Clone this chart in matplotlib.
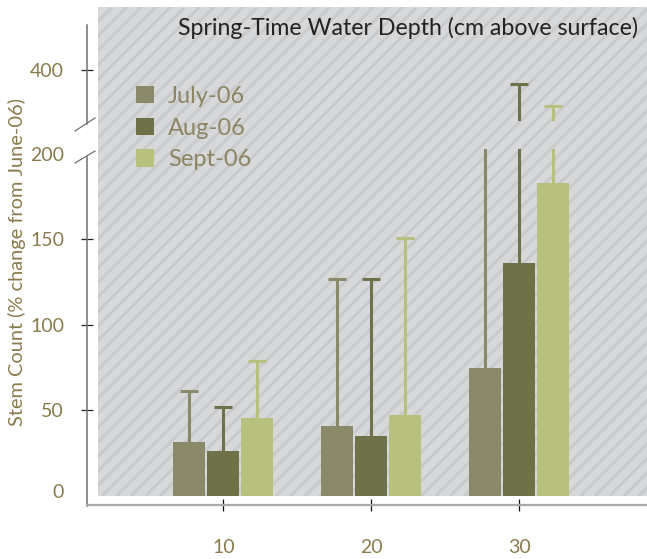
import numpy as np
import matplotlib
matplotlib.use("Agg")
import matplotlib.pyplot as plt
import matplotlib.transforms as mtransforms
from matplotlib.patches import Patch
from matplotlib.lines import Line2D

# data
depths = [10, 20, 30]
months = ["July-06", "Aug-06", "Sept-06"]
july = [31.3, 41.2, 75.1]
aug = [26.6, 34.8, 136.5]
sept = [45.9, 47.5, 183.3]
# upper end of the error bars
july_hi = [61.5, 127.0, 250.0]
aug_hi = [52.2, 127.0, 391.8]
sept_hi = [79.0, 150.6, 378.8]

colors = ["#8a8a6a", "#6f7248", "#b8c080"]
txt = "#8a7b4e"
plt.rcParams["font.family"] = ["Lato", "DejaVu Sans"]

W, H = 647, 559
fig = plt.figure(figsize=(W / 100, H / 100), dpi=100)

def fx(px):
    return px / W

def fy(py):
    return 1 - py / H

# striped background panel (drawn in pixel units)
pw, ph = 647 - 98, 496 - 7
bg = fig.add_axes([fx(98), fy(496), fx(647) - fx(98), fy(7) - fy(496)])
bg.set_facecolor("#d7d8da")
for c in np.arange(0, pw + ph + 15, 14.5):
    bg.plot([c - ph, c], [0, ph], color="#c9cacc", lw=2.2, solid_capstyle="butt")
bg.set_xlim(0, pw)
bg.set_ylim(0, ph)
bg.set_xticks([])
bg.set_yticks([])
for s in bg.spines.values():
    s.set_visible(False)

ax_lo = fig.add_axes([fx(98), fy(496), fx(647) - fx(98), fy(149) - fy(496)])
ax_hi = fig.add_axes([fx(98), fy(121), fx(647) - fx(98), fy(25) - fy(121)])

step = 2.3
width = 2.16
x = np.array(depths, dtype=float)
series = [(july, july_hi), (aug, aug_hi), (sept, sept_hi)]
for ax in (ax_lo, ax_hi):
    ax.patch.set_alpha(0)
    for i, (vals, hi) in enumerate(series):
        xs = x + (i - 1) * step
        vals = np.array(vals)
        err = np.array(hi) - vals
        ax.bar(xs, vals, width=width, color=colors[i], zorder=3)
        eb = ax.errorbar(xs, vals, yerr=[np.zeros_like(err), err], fmt="none",
                         ecolor=colors[i], elinewidth=2.2, capsize=6.5, capthick=2.2,
                         zorder=2)
        eb[1][0].set_visible(False)  # no cap at the bar top
    ax.set_xlim(1.53, 38.63)
    for s in ("top", "right"):
        ax.spines[s].set_visible(False)
    ax.spines["left"].set_position(("outward", 7.9))
    ax.spines["left"].set_color("#707070")
    ax.spines["left"].set_linewidth(1.1)
    ax.tick_params(axis="y", direction="inout", length=9, width=0.9, color="#222222",
                   labelsize=14, labelcolor=txt, pad=12)

ax_lo.set_ylim(0, 202.9)
ax_lo.set_yticks([0, 50, 100, 150, 200])
ticks = ax_lo.yaxis.get_major_ticks()
ticks[-1].tick1line.set_visible(False)
ticks[0].tick1line.set_visible(False)
lab0 = ticks[0].label1
lab0.set_transform(lab0.get_transform() +
                   mtransforms.ScaledTranslation(0, 5 / 100, fig.dpi_scale_trans))
ax_lo.spines["left"].set_bounds(-5.6, 198.2)
ax_lo.spines["bottom"].set_position(("outward", 6.8))
ax_lo.spines["bottom"].set_color("#aaaaaa")
ax_lo.spines["bottom"].set_linewidth(1.6)
ax_lo.spines["bottom"].set_bounds(0.79, 39.2)
ax_lo.set_xticks(depths)
ax_lo.tick_params(axis="x", direction="inout", length=9, width=0.9, color="#111111",
                  labelsize=14, labelcolor=txt, pad=20)

ax_hi.set_ylim(370.2, 426.3)
ax_hi.set_yticks([400])
ax_hi.spines["bottom"].set_visible(False)
ax_hi.spines["left"].set_bounds(368.4, 426.3)
ax_hi.set_xticks([])

# axis break marks
for y0, y1 in ((131, 118), (163, 151)):
    fig.add_artist(Line2D([fx(75), fx(95)], [fy(y0), fy(y1)], color="#707070", lw=0.9))

fig.text(fx(638), fy(28), "Spring-Time Water Depth (cm above surface)", ha="right",
         va="center", fontsize=16.7, color="#222222")
fig.text(fx(17), fy(262), "Stem Count (% change from June-06)", rotation=90,
         ha="center", va="center", fontsize=14.4, color=txt)

handles = [Patch(facecolor=c, edgecolor="none") for c in colors]
fig.legend(handles, months, loc="upper left", bbox_to_anchor=(fx(136), fy(86)),
           frameon=False, fontsize=17, labelcolor="#8c8462", borderpad=0,
           borderaxespad=0, handlelength=0.76, handleheight=0.76,
           handletextpad=0.6, labelspacing=0.45)

fig.savefig("out.png", dpi=100)
